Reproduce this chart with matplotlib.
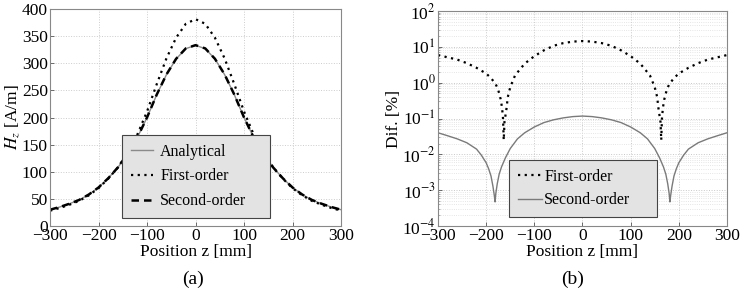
import matplotlib
matplotlib.use("Agg")
import matplotlib.pyplot as plt
from matplotlib.ticker import FixedLocator, LogLocator, NullFormatter

plt.rcParams['font.family'] = ['Liberation Serif', 'DejaVu Serif']
plt.rcParams['mathtext.fontset'] = 'stix'

# (a) field along the axis
z_field = [-300, -280, -260, -240, -220, -200, -180, -160, -140, -120, -100, -80, -60, -40, -20,
           0, 20, 40, 60, 80, 100, 120, 140, 160, 180, 200, 220, 240, 260, 280, 300]
hz_analytical = [30, 35, 41, 48, 58, 71, 88, 108, 133, 163, 200, 242, 279, 308, 327,
                 333, 327, 308, 279, 242, 200, 163, 133, 108, 88, 71, 58, 48, 41, 35, 30]
hz_first = [28.2, 33.2, 39.2, 46.3, 56.5, 69.7, 87.2, 108.0, 135.1, 168.5, 211.0, 261.4, 308.9, 347.1, 372.8,
            381.3, 372.8, 347.1, 308.9, 261.4, 211.0, 168.5, 135.1, 108.0, 87.2, 69.7, 56.5, 46.3, 39.2, 33.2, 28.2]
hz_second = [30, 35, 41, 48, 58, 71, 88, 108, 133, 163, 200.1, 242.2, 279.3, 308.3, 327.4,
             333.4, 327.4, 308.3, 279.3, 242.2, 200.1, 163, 133, 108, 88, 71, 58, 48, 41, 35, 30]

# (b) relative difference [%]
z_dif1 = [-300, -280, -260, -240, -220, -200, -190, -180, -175, -170, -167, -165, -163.5, -162, -160,
          -158, -155, -150, -140, -120, -100, -80, -60, -40, -20, 0,
          20, 40, 60, 80, 100, 120, 140, 150, 155, 158, 160, 162, 163.5, 165, 167, 170, 175, 180,
          190, 200, 220, 240, 260, 280, 300]
dif_first = [5.9, 5.1, 4.4, 3.5, 2.6, 1.8, 1.35, 0.9, 0.63, 0.35, 0.2, 0.1, 0.025, 0.08, 0.12,
             0.18, 0.4, 0.75, 1.6, 3.4, 5.5, 8.0, 10.7, 12.7, 14.0, 14.5,
             14.0, 12.7, 10.7, 8.0, 5.5, 3.4, 1.6, 0.75, 0.4, 0.18, 0.12, 0.08, 0.025, 0.1, 0.2, 0.35, 0.63, 0.9,
             1.35, 1.8, 2.6, 3.5, 4.4, 5.1, 5.9]
z_dif2 = [-300, -280, -260, -240, -220, -210, -200, -195, -190, -186, -183, -181.5, -180, -177, -173,
          -168, -160, -150, -135, -120, -100, -80, -60, -40, -20, 0,
          20, 40, 60, 80, 100, 120, 135, 150, 160, 168, 173, 177, 180, 181.5, 183, 186, 190, 195,
          200, 210, 220, 240, 260, 280, 300]
dif_second = [0.04, 0.033, 0.027, 0.021, 0.014, 0.0095, 0.0058, 0.004, 0.0025, 0.0013, 0.0007, 0.00047, 0.0008, 0.0015, 0.0028,
              0.0045, 0.008, 0.0145, 0.027, 0.04, 0.058, 0.077, 0.092, 0.104, 0.113, 0.117,
              0.113, 0.104, 0.092, 0.077, 0.058, 0.04, 0.027, 0.0145, 0.008, 0.0045, 0.0028, 0.0015, 0.0008, 0.00047, 0.0007, 0.0013, 0.0025, 0.004,
              0.0058, 0.0095, 0.014, 0.021, 0.027, 0.033, 0.04]

x_ticks = [-300, -200, -100, 0, 100, 200, 300]
fs_tick = 12.5
fs_lab = 12.5
fs_leg = 11.5
frame = '#888888'

fig = plt.figure(figsize=(7.5, 2.96), dpi=100)
ax1 = fig.add_axes([0.0667, 0.2365, 0.388, 0.733])
ax2 = fig.add_axes([0.584, 0.2365, 0.3853, 0.7263])

def style_axes(ax):
    for s in ax.spines.values():
        s.set_color(frame)
        s.set_linewidth(0.8)
    ax.tick_params(direction='in', length=3, width=0.6, color='#555555', labelsize=fs_tick, pad=1.5)
    ax.tick_params(which='minor', direction='in', length=1.5, width=0.4, color='#777777')
    ax.set_xlim(-300, 300)
    ax.set_xticks(x_ticks)
    ax.set_xticklabels(['\u2212300', '\u2212200', '\u2212100', '0', '100', '200', '300'])
    ax.set_xlabel('Position z [mm]', fontsize=fs_lab, labelpad=0)

def style_legend(leg):
    fr = leg.get_frame()
    fr.set_facecolor('#e3e3e3')
    fr.set_edgecolor('#444444')
    fr.set_linewidth(0.8)

# ---- (a)
ax1.plot(z_field, hz_analytical, color='#8a8a8a', lw=1.0, label='Analytical')
ax1.plot(z_field, hz_first, color='black', lw=1.6, ls=(0, (1, 2)), label='First-order')
ax1.plot(z_field, hz_second, color='black', lw=1.8, ls=(0, (3, 2)), label='Second-order')
style_axes(ax1)
ax1.set_ylim(0, 400)
ax1.set_yticks(range(0, 401, 50))
ax1.set_ylabel('$H_z$ [A/m]', fontsize=fs_lab, labelpad=0)
ax1.grid(True, color='#cccccc', ls=':', lw=0.7)
leg1 = ax1.legend(loc='lower left', bbox_to_anchor=(0.247, 0.037, 0.509, 0.345), mode='expand',
                  borderaxespad=0, fontsize=fs_leg, fancybox=False, framealpha=1, handlelength=1.4,
                  labelspacing=0.55, borderpad=0.55, handletextpad=0.45)
style_legend(leg1)

# ---- (b)
ax2.semilogy(z_dif1, dif_first, color='black', lw=1.6, ls=(0, (1, 2)), label='First-order')
ax2.semilogy(z_dif2, dif_second, color='#7a7a7a', lw=1.0, label='Second-order')
style_axes(ax2)
ax2.set_ylim(1e-4, 1e2)
ax2.yaxis.set_major_locator(FixedLocator([1e-4, 1e-3, 1e-2, 1e-1, 1e0, 1e1, 1e2]))
ax2.set_yticklabels(['10$^{-4}$', '10$^{-3}$', '10$^{-2}$', '10$^{-1}$', '10$^{0}$', '10$^{1}$', '10$^{2}$'])
ax2.yaxis.set_minor_locator(LogLocator(base=10, subs=range(2, 10), numticks=20))
ax2.yaxis.set_minor_formatter(NullFormatter())
ax2.set_ylabel('Dif. [%]', fontsize=fs_lab, labelpad=0)
ax2.grid(True, which='major', color='#c8c8c8', ls=':', lw=0.7)
ax2.grid(True, which='minor', axis='y', color='#dddddd', ls=':', lw=0.6)
leg2 = ax2.legend(loc='lower left', bbox_to_anchor=(0.246, 0.042, 0.512, 0.237), mode='expand',
                  borderaxespad=0, fontsize=fs_leg, fancybox=False, framealpha=1, handlelength=1.5,
                  labelspacing=0.45, borderpad=0.55, handletextpad=0.15)
style_legend(leg2)

fig.text(193 / 750, 1 - 279 / 296, '(a)', ha='center', va='center', fontsize=14)
fig.text(573 / 750, 1 - 279 / 296, '(b)', ha='center', va='center', fontsize=14)

fig.savefig('out.png', dpi=100)
